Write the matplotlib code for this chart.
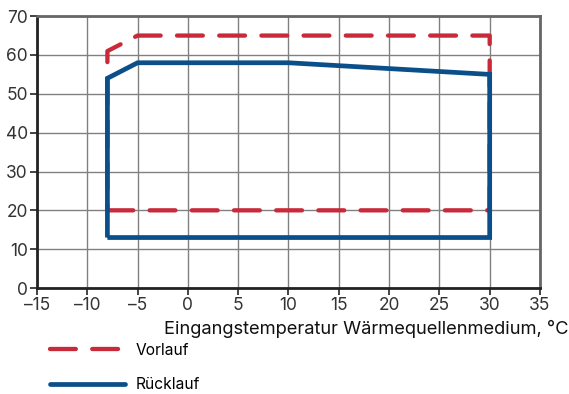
import matplotlib
matplotlib.use('Agg')
import matplotlib.pyplot as plt
from matplotlib.lines import Line2D

## data: operating envelope
vor_x = [-8, 30, 30, -5, -8, -8]
vor_y = [20, 20, 65, 65, 61, 20]
rueck_x = [-8, -8, -5, 10, 30, 30, -8]
rueck_y = [13, 54, 58, 58, 55, 13, 13]

xticks = [-15, -10, -5, 0, 5, 10, 15, 20, 25, 30, 35]
yticks = [0, 10, 20, 30, 40, 50, 60, 70]

red = '#c92a39'
blue = '#0b4f8a'

plt.rcParams['font.family'] = ['Inter', 'DejaVu Sans']

fig = plt.figure(figsize=(5.69, 3.94), dpi=100)
ax = fig.add_axes([0.065, 0.269, 0.884, 0.690])

ax.plot(vor_x, vor_y, color=red, linewidth=3.1, linestyle=(0, (6.0, 3.8)),
        dash_capstyle='round', solid_joinstyle='miter', zorder=3)
ax.plot(rueck_x, rueck_y, color=blue, linewidth=3.4, solid_capstyle='butt',
        solid_joinstyle='miter', zorder=4)

ax.set_xlim(-15, 35)
ax.set_ylim(0, 70)
ax.set_xticks(xticks)
ax.set_yticks(yticks)
ax.set_xticklabels([str(t).replace('-', '\u2013') for t in xticks])
ax.tick_params(labelsize=12.5, labelcolor='#333333', color='#222222',
               length=5, width=1.2, pad=1.5)
ax.grid(color='#808080', linewidth=1.0)
ax.set_axisbelow(True)

for s in ['left', 'bottom']:
    ax.spines[s].set_color('#222222')
    ax.spines[s].set_linewidth(2.0)
for s in ['top', 'right']:
    ax.spines[s].set_color('#666666')
    ax.spines[s].set_linewidth(2.0)

fig.text(0.999, 0.165, 'Eingangstemperatur W\u00e4rmequellenmedium, \u00b0C',
         ha='right', va='center', fontsize=13.2, color='#111111')

handles = [Line2D([], [], color=red, linewidth=3.1, linestyle=(0, (6.0, 3.8)),
                  dash_capstyle='round'),
           Line2D([], [], color=blue, linewidth=3.4, solid_capstyle='round')]
fig.legend(handles, ['Vorlauf', 'R\u00fccklauf'], loc='upper left',
           bbox_to_anchor=(0.088, 0.13), frameon=False, fontsize=11.2,
           handlelength=4.8, handletextpad=0.7, labelspacing=1.25,
           borderaxespad=0, borderpad=0)

plt.savefig('out.png', format='png')
